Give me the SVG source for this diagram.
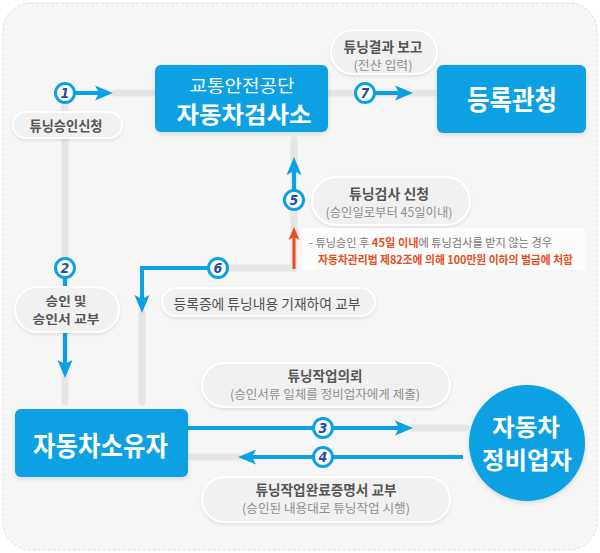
<svg xmlns="http://www.w3.org/2000/svg" width="600" height="553" viewBox="0 0 600 553">
<defs>
<style>
.bg{fill:#f6f6f6;stroke:#dcdcdc;stroke-width:1;stroke-dasharray:3 2}
.box{fill:#0aa1e4}
.track{fill:none;stroke:#e6e6e6;stroke-width:7;stroke-linecap:round}
.flow{fill:none;stroke:#0aa1e4;stroke-width:4}
.warn{fill:none;stroke:#e5501f;stroke-width:3}
.pill{fill:#f1f1f1;stroke:#ffffff;stroke-width:2}
.badge{fill:#ffffff;stroke:#0aa1e4;stroke-width:3}
.num{font-family:"DejaVu Sans Condensed","DejaVu Sans",sans-serif;font-weight:bold;font-style:italic;font-size:14px;fill:#2a4b9c;text-anchor:middle;dominant-baseline:central}
.t{font-family:"Noto Sans CJK KR","Noto Sans",sans-serif;text-anchor:middle;dominant-baseline:central}
.w{fill:#ffffff;font-weight:bold}
.lab{fill:#555555;font-weight:bold;font-size:13.5px}
.sub{fill:#8e8e8e;font-size:12.5px}
.note{font-family:"Noto Sans CJK KR","Noto Sans",sans-serif;font-size:11.5px;dominant-baseline:central}
</style>
<filter id="sh" x="-10%" y="-20%" width="120%" height="150%">
<feDropShadow dx="0" dy="2" stdDeviation="2" flood-color="#000" flood-opacity="0.12"/>
</filter>
<filter id="psh" x="-10%" y="-30%" width="120%" height="170%">
<feDropShadow dx="0" dy="1.5" stdDeviation="1.5" flood-color="#000" flood-opacity="0.10"/>
</filter>
<marker id="ah" markerUnits="userSpaceOnUse" markerWidth="20" markerHeight="18" viewBox="0 -9 20 18" refX="10" refY="0" orient="auto">
<path d="M0,-7.5 L18,0 L0,7.5 L4,0 Z" fill="#0aa1e4"/>
</marker>
<marker id="ahr" markerUnits="userSpaceOnUse" markerWidth="14" markerHeight="14" viewBox="0 -7 14 14" refX="6" refY="0" orient="auto">
<path d="M0,-5.5 L13,0 L0,5.5 L3,0 Z" fill="#e5501f"/>
</marker>
</defs>

<rect class="bg" x="3" y="3" width="594" height="547" rx="28"/>

<g id="connectors">
  <line class="track" x1="65" y1="93" x2="65" y2="402"/>
  <line class="track" x1="115" y1="93" x2="155" y2="93"/>
  <line class="track" x1="328" y1="93" x2="437" y2="93"/>
  <line class="track" x1="294" y1="140" x2="294" y2="268"/>
  <line class="track" x1="294" y1="268" x2="218" y2="268"/>
  <line class="track" x1="142" y1="313" x2="142" y2="402"/>
  <line class="track" x1="413" y1="428" x2="466" y2="428"/>
  <line class="track" x1="190" y1="457" x2="238" y2="457"/>
  <path class="flow" d="M75,93 H105" marker-end="url(#ah)"/>
  <path class="flow" d="M65,278 V370" marker-end="url(#ah)"/>
  <path class="flow" d="M188,428 H405" marker-end="url(#ah)"/>
  <path class="flow" d="M463,457 H246" marker-end="url(#ah)"/>
  <path class="flow" d="M294,190 V165" marker-end="url(#ah)"/>
  <path class="flow" d="M208,268 H142 V305" marker-end="url(#ah)"/>
  <path class="flow" d="M375,93 H405" marker-end="url(#ah)"/>
  <path class="warn" d="M294,269 V234" marker-end="url(#ahr)"/>
  <circle class="badge" cx="65" cy="93" r="9.5"/><text class="num" x="65" y="93">1</text>
  <circle class="badge" cx="65" cy="268" r="9.5"/><text class="num" x="65" y="268">2</text>
  <circle class="badge" cx="323" cy="428" r="9.5"/><text class="num" x="323" y="428">3</text>
  <circle class="badge" cx="323" cy="457" r="9.5"/><text class="num" x="323" y="457">4</text>
  <circle class="badge" cx="294" cy="200" r="9.5"/><text class="num" x="294" y="200">5</text>
  <circle class="badge" cx="218" cy="268" r="9.5"/><text class="num" x="218" y="268">6</text>
  <circle class="badge" cx="365" cy="93" r="9.5"/><text class="num" x="365" y="93">7</text>
</g>

<g id="label-1">
  <rect class="pill" x="13" y="112" width="109" height="26" rx="13" filter="url(#psh)"/>
  <text class="t lab" x="66" y="125" textLength="73" lengthAdjust="spacingAndGlyphs">튜닝승인신청</text>
</g>
<g id="label-2">
  <rect class="pill" x="15" y="287" width="104" height="45" rx="22.5" filter="url(#psh)"/>
  <text class="t lab" x="66" y="300.5" textLength="41" lengthAdjust="spacingAndGlyphs" style="font-size:12.5px">승인 및</text>
  <text class="t lab" x="66" y="318.5" textLength="67" lengthAdjust="spacingAndGlyphs" style="font-size:12.5px">승인서 교부</text>
</g>
<g id="label-7">
  <rect class="pill" x="331" y="30" width="106" height="44" rx="22" filter="url(#psh)"/>
  <text class="t lab" x="383" y="46" textLength="79" lengthAdjust="spacingAndGlyphs">튜닝결과 보고</text>
  <text class="t sub" x="383" y="64" textLength="59" lengthAdjust="spacingAndGlyphs">(전산 입력)</text>
</g>
<g id="label-5">
  <rect class="pill" x="312" y="177" width="158" height="48" rx="24" filter="url(#psh)"/>
  <text class="t lab" x="389" y="192.5" textLength="80" lengthAdjust="spacingAndGlyphs">튜닝검사 신청</text>
  <text class="t sub" x="389" y="211" textLength="127" lengthAdjust="spacingAndGlyphs">(승인일로부터 45일이내)</text>
</g>
<g id="note">
  <rect x="302" y="228" width="283" height="42" fill="#fcfcfc"/>
  <text class="note" x="309" y="242" textLength="243" lengthAdjust="spacingAndGlyphs" fill="#777777">- 튜닝승인 후 <tspan fill="#e5501f" font-weight="bold">45일 이내</tspan>에 튜닝검사를 받지 않는 경우</text>
  <text class="note" x="318" y="258.5" textLength="255" lengthAdjust="spacingAndGlyphs" fill="#e5501f" font-weight="bold">자동차관리법 제82조에 의해 100만원 이하의 벌금에 처함</text>
</g>
<g id="label-6">
  <rect class="pill" x="162" y="288" width="213" height="28" rx="14" filter="url(#psh)"/>
  <text class="t lab" x="267" y="302.5" textLength="187" lengthAdjust="spacingAndGlyphs" style="font-weight:normal;font-size:14px;fill:#505050">등록증에 튜닝내용 기재하여 교부</text>
</g>
<g id="label-3">
  <rect class="pill" x="202" y="363" width="248" height="44" rx="22" filter="url(#psh)"/>
  <text class="t lab" x="325" y="375" textLength="75" lengthAdjust="spacingAndGlyphs">튜닝작업의뢰</text>
  <text class="t sub" x="325" y="393" textLength="190" lengthAdjust="spacingAndGlyphs">(승인서류 일체를 정비업자에게 제출)</text>
</g>
<g id="label-4">
  <rect class="pill" x="202" y="477" width="248" height="45" rx="22.5" filter="url(#psh)"/>
  <text class="t lab" x="326" y="488.5" textLength="141" lengthAdjust="spacingAndGlyphs">튜닝작업완료증명서 교부</text>
  <text class="t sub" x="326" y="507.5" textLength="168" lengthAdjust="spacingAndGlyphs">(승인된 내용대로 튜닝작업 시행)</text>
</g>

<g id="inspection-office">
  <rect class="box" x="155" y="65" width="173" height="67" rx="6" filter="url(#sh)"/>
  <text class="t w" x="242" y="84.5" font-size="17" textLength="105" lengthAdjust="spacingAndGlyphs" style="font-weight:normal">교통안전공단</text>
  <text class="t w" x="244" y="113" font-size="23" textLength="135" lengthAdjust="spacingAndGlyphs">자동차검사소</text>
</g>
<g id="registry-office">
  <rect class="box" x="437" y="65" width="149" height="68" rx="6" filter="url(#sh)"/>
  <text class="t w" x="512" y="98" font-size="27" textLength="90" lengthAdjust="spacingAndGlyphs">등록관청</text>
</g>
<g id="vehicle-owner">
  <rect class="box" x="15" y="409" width="173" height="68" rx="6" filter="url(#sh)"/>
  <text class="t w" x="100.5" y="444" font-size="27" textLength="135" lengthAdjust="spacingAndGlyphs">자동차소유자</text>
</g>
<g id="repair-shop">
  <circle class="box" cx="527" cy="443" r="58" filter="url(#sh)"/>
  <text class="t w" x="526" y="425.5" font-size="23.5" textLength="68" lengthAdjust="spacingAndGlyphs">자동차</text>
  <text class="t w" x="527" y="458.5" font-size="23.5" textLength="90" lengthAdjust="spacingAndGlyphs">정비업자</text>
</g>
</svg>
